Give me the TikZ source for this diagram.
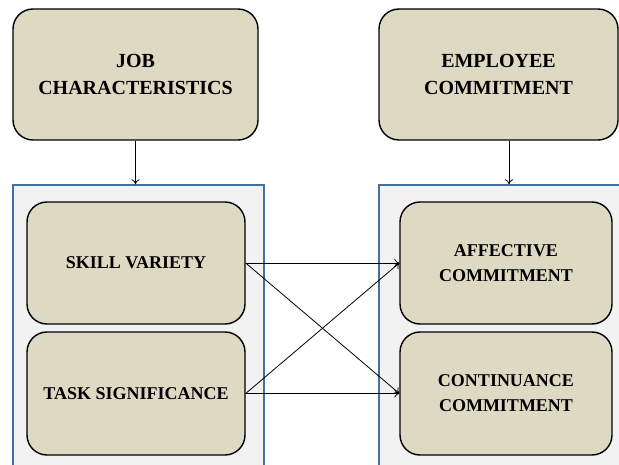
\documentclass[tikz,border=0pt]{standalone}
\usepackage{fontspec}
\setmainfont{Liberation Serif}
\usetikzlibrary{arrows.meta,calc}
\definecolor{tan}{HTML}{DDD9C3}
\definecolor{panel}{HTML}{F2F2F2}
\definecolor{panelline}{HTML}{41719C}
\tikzset{
  concept/.style={draw=black, line width=1.4pt, fill=tan, rounded corners=20pt,
    align=center, font=\fontsize{18}{25}\selectfont\bfseries, inner sep=2pt},
  bigconcept/.style={concept, font=\fontsize{20}{27}\selectfont\bfseries},
  container/.style={draw=panelline, line width=1.4pt, fill=panel, inner sep=0pt},
  link/.style={draw=black, line width=0.8pt, -{To[length=5pt,width=8pt]}}
}
\begin{document}
\begin{tikzpicture}[x=1pt,y=1pt]
\useasboundingbox (0,0) rectangle (619,-465);
% blue panels holding the two groups of dimensions
\node[container, minimum width=251pt, minimum height=285pt] (lc) at (138.5,-327.5) {};
\node[container, minimum width=251pt, minimum height=285pt] (rc) at (504.5,-327.5) {};
% top-level constructs
\node[bigconcept, minimum width=245pt, minimum height=131pt] (jc) at (135.5,-74.5) {JOB\\CHARACTERISTICS};
\node[bigconcept, minimum width=239pt, minimum height=131pt] (ec) at (498.5,-74.5) {EMPLOYEE\\COMMITMENT};
% dimensions
\node[concept, minimum width=218pt, minimum height=122pt] (sv) at (136,-263) {SKILL VARIETY};
\node[concept, minimum width=218pt, minimum height=123pt] (ts) at (136,-393.5) {TASK SIGNIFICANCE};
\node[concept, minimum width=212pt, minimum height=122pt] (ac) at (506,-263) {AFFECTIVE\\COMMITMENT};
\node[concept, minimum width=212pt, minimum height=123pt] (cc) at (506,-393.5) {CONTINUANCE\\COMMITMENT};
% construct to panel
\draw[link] (jc.south) -- (jc.south |- lc.north);
\draw[link] ([xshift=10.5pt]ec.south) -- ([xshift=10.5pt]ec.south |- rc.north);
% relationships between dimensions
\draw[link] (sv.east) -- (ac.west);
\draw[link] (sv.east) -- (cc.west);
\draw[link] (ts.east) -- (ac.west);
\draw[link] (ts.east) -- (cc.west);
\end{tikzpicture}
\end{document}
